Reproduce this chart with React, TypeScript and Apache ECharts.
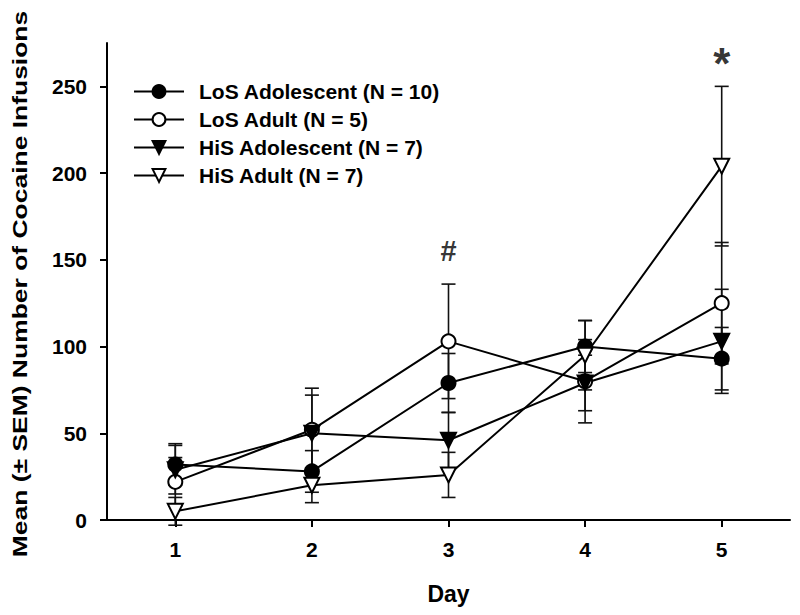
import React, { useEffect, useRef } from "react";
import * as echarts from "echarts";

const days = [1, 2, 3, 4, 5];
const yTicks = [0, 50, 100, 150, 200, 250];

const losAdolescent = [32, 28, 79, 100, 93];
const losAdolescentSem = [12, 12, 17, 15, 18];
const losAdult = [22, 52, 103, 80, 125];
const losAdultSem = [14, 24, 33, 24, 35];
const hisAdolescent = [29, 50, 46, 79, 103];
const hisAdolescentSem = [14, 22, 16, 16, 30];
const hisAdult = [5, 20, 26, 95, 204];
const hisAdultSem = [8, 10, 13, 20, 46];

const seriesNames = [
  "LoS Adolescent (N = 10)",
  "LoS Adult (N = 5)",
  "HiS Adolescent (N = 7)",
  "HiS Adult (N = 7)",
];

const yAxisTitle = "Mean (± SEM) Number of Cocaine Infusions";
const xAxisTitle = "Day";

const annotations = [
  { day: 3, value: 155, text: "#" },
  { day: 5, value: 266, text: "*" },
];

const FONT = "'Liberation Sans', Arial, Helvetica, sans-serif";

export default function App() {
  const ref = useRef<HTMLDivElement>(null);

  useEffect(() => {
    if (!ref.current) return;
    const chart = echarts.init(ref.current, undefined, { renderer: "svg" });

    const groups = [
      { name: seriesNames[0], mean: losAdolescent, sem: losAdolescentSem, symbol: "circle", fill: "#000", rotate: 0 },
      { name: seriesNames[1], mean: losAdult, sem: losAdultSem, symbol: "circle", fill: "#fff", rotate: 0 },
      { name: seriesNames[2], mean: hisAdolescent, sem: hisAdolescentSem, symbol: "triangle", fill: "#000", rotate: 180 },
      { name: seriesNames[3], mean: hisAdult, sem: hisAdultSem, symbol: "triangle", fill: "#fff", rotate: 180 },
    ];

    const errorSeries = groups.map((g) => ({
      type: "custom",
      name: g.name + " SEM",
      z: 1,
      silent: true,
      data: days.map((d, i) => [d, g.mean[i], g.sem[i]]),
      encode: { x: 0, y: 1 },
      renderItem: (params: any, api: any) => {
        const x = api.value(0);
        const m = api.value(1);
        const e = api.value(2);
        const top = api.coord([x, m + e]);
        const bot = api.coord([x, m - e]);
        const hw = 7;
        const style = { stroke: "#111", lineWidth: 1.6 };
        return {
          type: "group",
          children: [
            { type: "line", shape: { x1: top[0], y1: top[1], x2: bot[0], y2: bot[1] }, style },
            { type: "line", shape: { x1: top[0] - hw, y1: top[1], x2: top[0] + hw, y2: top[1] }, style },
            { type: "line", shape: { x1: bot[0] - hw, y1: bot[1], x2: bot[0] + hw, y2: bot[1] }, style },
          ],
        };
      },
    }));

    const lineSeries = groups.map((g) => ({
      type: "line",
      name: g.name,
      z: 3,
      data: days.map((d, i) => [d, g.mean[i]]),
      symbol: g.symbol,
      symbolSize: g.symbol === "circle" ? 14 : 15,
      symbolRotate: g.rotate,
      lineStyle: { color: "#000", width: 2 },
      itemStyle: { color: g.fill, borderColor: "#000", borderWidth: 2 },
      emphasis: { disabled: true },
    }));

    const annotationSeries = {
      type: "scatter",
      name: "annotations",
      symbolSize: 0,
      silent: true,
      data: annotations.map((a) => ({
        value: [a.day, a.value],
        text: a.text,
        label: a.text === "*" ? { fontSize: 44, offset: [0, 5] } : { fontSize: 29 },
      })),
      label: {
        show: true,
        position: "inside",
        formatter: (p: any) => p.data.text,
        color: "#000",
        fontFamily: FONT,
        fontWeight: "bold",
      },
    };

    chart.setOption({
      animation: false,
      backgroundColor: "#fff",
      textStyle: { fontFamily: FONT },
      grid: { left: 107, right: 10, top: 43, bottom: 95, containLabel: false },
      legend: {
        data: seriesNames,
        orient: "vertical",
        left: 133,
        top: 81,
        padding: 0,
        itemWidth: 50,
        itemHeight: 16,
        itemGap: 7,
        textStyle: {
          fontFamily: FONT,
          fontWeight: "bold",
          fontSize: 21,
          lineHeight: 20,
          color: "#000",
          padding: [0, 0, 0, 10],
        },
        selectedMode: false,
      },
      graphic: [
        {
          type: "text",
          x: 20,
          y: 284,
          rotation: Math.PI / 2,
          scaleX: 1.26,
          style: {
            text: yAxisTitle,
            fontFamily: FONT,
            fontWeight: "bold",
            fontSize: 21,
            fill: "#000",
            textAlign: "center",
            textVerticalAlign: "middle",
          },
        },
      ],
      xAxis: {
        type: "value",
        min: 0.5,
        max: 5.5,
        name: xAxisTitle,
        nameLocation: "middle",
        nameGap: 62,
        nameTextStyle: { fontFamily: FONT, fontWeight: "bold", fontSize: 23, color: "#000" },
        splitLine: { show: false },
        axisLine: { show: true, onZero: false, lineStyle: { color: "#000", width: 2 } },
        axisTick: { show: true, length: 7, lineStyle: { color: "#000", width: 2 }, customValues: days },
        axisLabel: { fontFamily: FONT, fontWeight: "bold", fontSize: 21, color: "#000", margin: 19, customValues: days },
      },
      yAxis: {
        type: "value",
        min: 0,
        max: 275,
        splitLine: { show: false },
        axisLine: { show: true, lineStyle: { color: "#000", width: 2 } },
        axisTick: { show: true, length: 7, lineStyle: { color: "#000", width: 2 }, customValues: yTicks },
        axisLabel: { fontFamily: FONT, fontWeight: "bold", fontSize: 21, color: "#000", margin: 20, customValues: yTicks },
      },
      series: [...errorSeries, ...lineSeries, annotationSeries],
    });

    return () => chart.dispose();
  }, []);

  return <div ref={ref} style={{ width: 800, height: 615, margin: -8 }} />;
}
